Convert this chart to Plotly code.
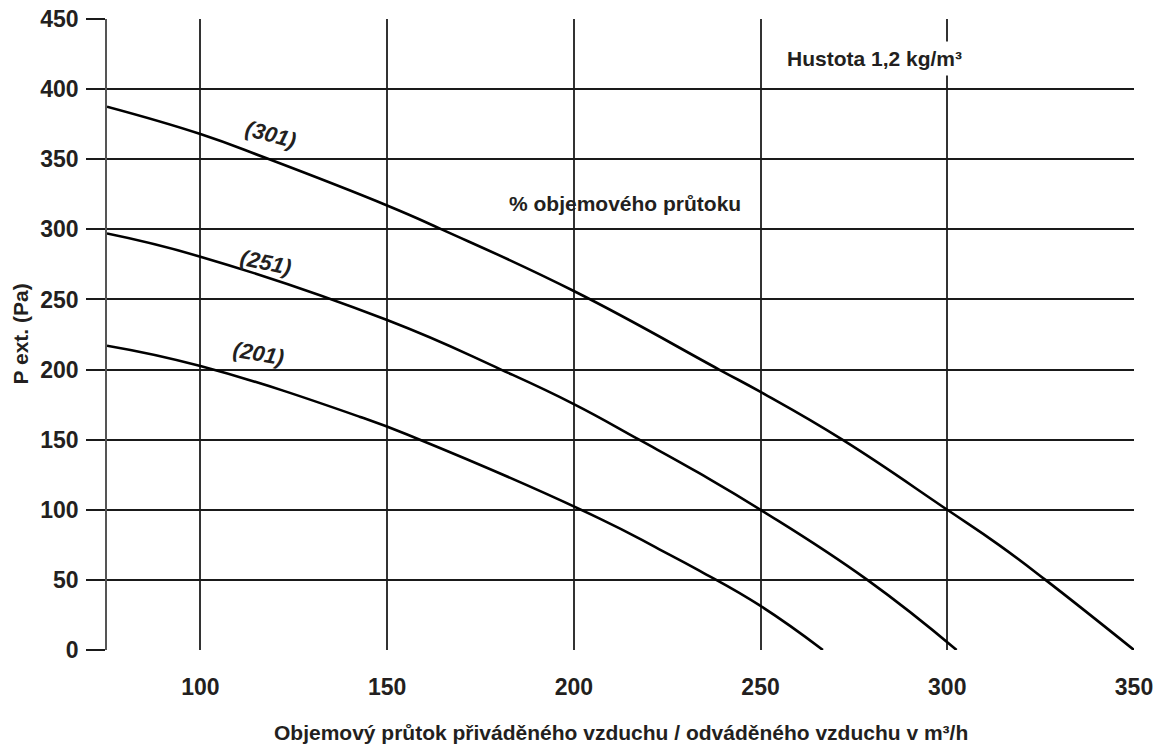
import plotly.graph_objects as go

# ---- data ----
flow_301 = [75, 100, 117.4, 150, 164.6, 200, 238.9, 250, 271.9, 300, 313.8, 326.3, 350]
pext_301 = [387.5, 368, 351, 317, 300, 256, 200, 184, 150, 100, 75, 50, 0]

flow_251 = [75, 100, 150, 180.5, 200, 217.5, 233.6, 250, 278.6, 302.5]
pext_251 = [297, 280.5, 235.3, 200, 175.4, 150, 126.1, 100, 50, 0]

flow_201 = [75, 100, 142.6, 157.8, 206.8, 222.9, 233.6, 250, 266.7]
pext_201 = [217, 202.5, 166.4, 151, 93.9, 71.8, 56.6, 31.4, 0]

curve_names = ["(301)", "(251)", "(201)"]
label_x = [118.9, 117.5, 115.6]
label_y = [367.3, 276.0, 211.8]
label_angle = [15, 12, 10]

x_ticks = [100, 150, 200, 250, 300, 350]
x_tick_marks = [75, 150, 200, 250, 300, 350]
y_ticks = [0, 50, 100, 150, 200, 250, 300, 350, 400, 450]

x_title = "Objemový průtok přiváděného vzduchu / odváděného vzduchu v m³/h"
y_title = "P ext. (Pa)"
density_note = "Hustota 1,2 kg/m³"
flow_note = "% objemového průtoku"

FONT = "Liberation Sans, Arial, sans-serif"
TXT = "#231f20"

fig = go.Figure()
for xs, ys, nm in zip([flow_301, flow_251, flow_201], [pext_301, pext_251, pext_201], curve_names):
    fig.add_trace(go.Scatter(x=xs, y=ys, mode="lines", name=nm,
                             line=dict(color="#000000", width=2.6, shape="spline", smoothing=1.3),
                             showlegend=False, hoverinfo="skip"))

for nm, lx, ly, ang in zip(curve_names, label_x, label_y, label_angle):
    fig.add_annotation(x=lx, y=ly, xref="x", yref="y", text="<b><i>" + nm + "</i></b>",
                       showarrow=False, textangle=ang,
                       font=dict(family=FONT, size=22, color=TXT))

fig.add_annotation(x=280.6, y=421.5, xref="x", yref="y", text="<b>" + density_note + "</b>",
                   showarrow=False, bgcolor="#ffffff", borderpad=5,
                   font=dict(family=FONT, size=21, color=TXT))
fig.add_annotation(x=213.8, y=318.1, xref="x", yref="y", text="<b>" + flow_note + "</b>",
                   showarrow=False, font=dict(family=FONT, size=21, color=TXT))

fig.add_annotation(x=0.5, y=-0.131, xref="paper", yref="paper", text="<b>" + x_title + "</b>",
                   showarrow=False, yanchor="middle", xanchor="center",
                   font=dict(family=FONT, size=21, color=TXT))
fig.add_annotation(x=-0.0847, y=0.5, xref="paper", yref="paper", text="<b>" + y_title + "</b>",
                   showarrow=False, textangle=-90, xanchor="center", yanchor="middle",
                   font=dict(family=FONT, size=21, color=TXT))

# plot area spans 107..1134 x 19..650 on the page
fig.update_layout(
    width=1154, height=747,
    margin=dict(l=107, r=20, t=19, b=97, autoexpand=False),
    paper_bgcolor="#ffffff", plot_bgcolor="#ffffff",
    xaxis=dict(range=[75, 350], tickmode="array", tickvals=x_ticks, automargin=False,
               ticks="", showgrid=True, gridcolor="#333333", gridwidth=1.5,
               zeroline=False, showline=False, ticklabelstandoff=21,
               ticklabeloverflow="allow",
               tickfont=dict(family=FONT, size=23, color=TXT, weight="bold")),
    xaxis2=dict(range=[75, 350], overlaying="x", anchor="y", side="bottom", automargin=False,
                tickmode="array", tickvals=x_tick_marks, ticks="outside", ticklen=19,
                tickwidth=1.5, tickcolor="#444444", showticklabels=False,
                showgrid=False, zeroline=False, showline=False),
    yaxis=dict(range=[0, 450], tickmode="array", tickvals=y_ticks, automargin=False,
               ticks="outside", ticklen=19, tickwidth=1.5, tickcolor="#1a1a1a",
               showgrid=True, gridcolor="#1a1a1a", gridwidth=1.5,
               zeroline=False, showline=True, linecolor="#555555", linewidth=1.5,
               ticklabelstandoff=3, ticklabeloverflow="allow",
               tickfont=dict(family=FONT, size=23, color=TXT, weight="bold")),
)

fig.write_html("out.html", config={"displayModeBar": False},
               post_script="document.body.style.margin='0px';")
